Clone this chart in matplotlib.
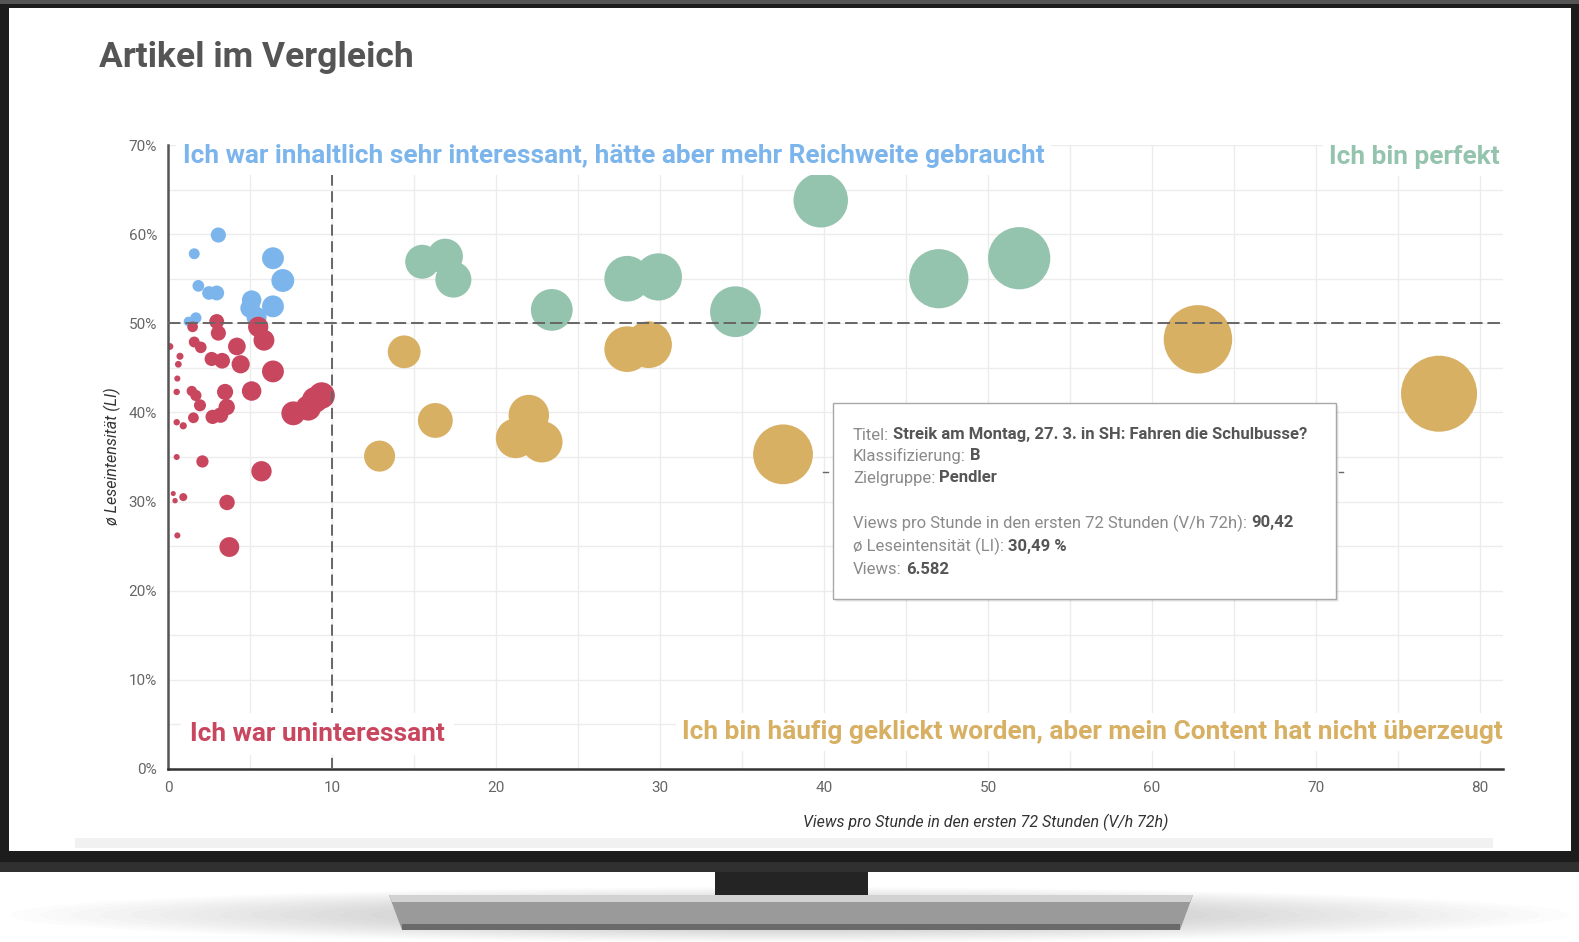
import numpy as np
import matplotlib
matplotlib.use("Agg")
import matplotlib.pyplot as plt
from matplotlib.patches import Rectangle, Polygon, Ellipse

W, H = 1579, 942

# --- data: views per hour (first 72h), avg reading intensity (%), views ---
blue_x = [3.07, 1.6, 6.4, 7.0, 1.85, 2.5, 2.97, 5.1, 6.4, 5.0, 5.4, 1.7, 1.25]
blue_y = [59.9, 57.8, 57.3, 54.8, 54.2, 53.4, 53.4, 52.6, 51.9, 51.7, 50.7, 50.6, 50.2]
blue_views = [221, 115, 461, 504, 133, 180, 214, 367, 461, 360, 389, 122, 90]

red_x = [2.97, 1.5, 3.07, 5.5, 5.85, 1.6, 2.0, 0.12, 4.2, 0.73, 2.66, 3.3, 4.43, 0.63,
         6.4, 0.57, 0.53, 1.45, 1.7, 3.48, 5.1, 1.95, 3.58, 2.72, 3.2, 1.55, 0.53, 0.93,
         7.64, 8.55, 8.96, 9.37, 0.53, 2.1, 5.7, 0.32, 0.43, 0.93, 3.6, 0.57, 3.74]
red_y = [50.2, 49.6, 48.9, 49.6, 48.1, 47.9, 47.3, 47.4, 47.4, 46.3, 46.0, 45.8, 45.4, 45.4,
         44.6, 43.8, 42.3, 42.4, 41.9, 42.3, 42.4, 40.8, 40.6, 39.5, 39.7, 39.4, 38.9, 38.5,
         39.9, 40.5, 41.4, 41.9, 35.0, 34.5, 33.4, 30.9, 30.1, 30.5, 29.9, 26.2, 24.9]
red_views = [214, 110, 221, 396, 421, 115, 130, 45, 302, 48, 192, 238, 319, 44,
             461, 36, 40, 104, 122, 251, 367, 140, 258, 196, 230, 112, 40, 50,
             550, 616, 645, 675, 35, 145, 400, 25, 28, 62, 230, 36, 380]

green_x = [15.5, 16.9, 17.4, 23.4, 28.0, 29.9, 34.6, 39.8, 47.0, 51.9]
green_y = [56.9, 57.5, 54.9, 51.5, 55.0, 55.2, 51.3, 63.8, 55.0, 57.3]
green_views = [1117, 1217, 1252, 1685, 2016, 2153, 2491, 2866, 3384, 3737]

orange_x = [14.4, 16.3, 12.9, 21.2, 22.0, 22.8, 28.0, 29.3, 37.5, 62.8, 77.5]
orange_y = [46.8, 39.1, 35.1, 37.1, 39.7, 36.7, 47.1, 47.6, 35.3, 48.2, 42.1]
orange_views = [1037, 1174, 929, 1526, 1584, 1642, 2016, 2110, 3450, 4522, 5580]

BLUE, RED, GREEN, ORANGE = "#7cb5ec", "#c9465f", "#95c4ae", "#d8b064"
FONT = "Roboto"
plt.rcParams["lines.scale_dashes"] = False

fig = plt.figure(figsize=(W / 100, H / 100), dpi=100)
fig.patch.set_facecolor("white")

# --- tv frame, drawn in pixel coords ---
bg = fig.add_axes([0, 0, 1, 1], zorder=0)
bg.set_xlim(0, W)
bg.set_ylim(H, 0)
bg.axis("off")
for i in range(14):
    bg.add_patch(Ellipse((790, 915), 1560 - i * 60, 56 - i * 2, color="black", alpha=0.012, lw=0))
bg.add_patch(Rectangle((0, 0), W, 872, color="#1c1c1c", lw=0))
bg.add_patch(Rectangle((0, 0), W, 4, color="#555555", lw=0))
bg.add_patch(Rectangle((0, 862), W, 10, color="#303030", lw=0))
bg.add_patch(Rectangle((9, 8), 1562, 843, color="white", lw=0))
bg.add_patch(Rectangle((715, 872), 153, 26, color="#242424", lw=0))
bg.add_patch(Polygon([(389, 895), (1193, 895), (1180, 930), (402, 930)], color="#9a9a9a", lw=0))
bg.add_patch(Polygon([(389, 895), (1193, 895), (1190, 902), (392, 902)], color="#d2d2d2", lw=0))
bg.add_patch(Rectangle((402, 924), 778, 6, color="#6a6a6a", lw=0))
bg.add_patch(Rectangle((75, 838), 1418, 10, color="#f1f1f1", lw=0))

# --- chart ---
ax = fig.add_axes([168 / W, 1 - 769 / H, (1503 - 168) / W, (769 - 145) / H], zorder=1)
ax.set_facecolor("none")
S = 0.537  # marker area (pt^2) per view
ax.scatter(blue_x, blue_y, s=np.array(blue_views) * S, color=BLUE, lw=0, zorder=2)
ax.scatter(red_x, red_y, s=np.array(red_views) * S, color=RED, lw=0, zorder=2)
ax.scatter(green_x, green_y, s=np.array(green_views) * S, color=GREEN, lw=0, zorder=2)
ax.scatter(orange_x, orange_y, s=np.array(orange_views) * S, color=ORANGE, lw=0, zorder=2)

ax.axhline(50, color="#666666", lw=1.4, dashes=(9, 3.5), zorder=3)
ax.axvline(10, color="#666666", lw=1.4, dashes=(8, 4), zorder=3)

ax.set_xlim(0, 81.4)
ax.set_ylim(0, 70)
ax.set_xticks(range(0, 81, 10))
ax.set_xticks(np.arange(5, 81, 10), minor=True)
ax.set_yticks(range(0, 71, 10))
ax.set_yticks(np.arange(5, 70, 10), minor=True)
ax.set_yticklabels([f"{v}%" for v in range(0, 71, 10)])
ax.grid(True, which="both", color="#ececec", lw=1, zorder=0)
ax.set_axisbelow(True)
ax.tick_params(which="both", length=0)
ax.tick_params(axis="y", pad=8, labelsize=11, labelcolor="#666666")
ax.tick_params(axis="x", pad=9, labelsize=11, labelcolor="#666666")
for lab in ax.get_xticklabels() + ax.get_yticklabels():
    lab.set_fontfamily(FONT)
for sp in ("top", "right"):
    ax.spines[sp].set_visible(False)
ax.spines["left"].set_color("#555555")
ax.spines["left"].set_linewidth(1.8)
ax.spines["bottom"].set_color("#333333")
ax.spines["bottom"].set_linewidth(1.8)

# --- overlay texts in pixel coords ---
ov = fig.add_axes([0, 0, 1, 1], zorder=5)
ov.set_xlim(0, W)
ov.set_ylim(H, 0)
ov.axis("off")
ov.patch.set_visible(False)

ov.text(99, 57, "Artikel im Vergleich", family=FONT, weight="bold", fontsize=25.5,
        color="#555555", ha="left", va="center")
ov.text(112, 456, "ø Leseintensität (LI)", family=FONT, style="italic", fontsize=11.5,
        color="#333333", rotation=90, ha="center", va="center")
ov.text(986, 822, "Views pro Stunde in den ersten 72 Stunden (V/h 72h)", family=FONT,
        style="italic", fontsize=11.5, color="#333333", ha="center", va="center")

QS = 18.9
box = dict(boxstyle="square,pad=0.25", fc="white", ec="none")
ov.text(183, 156, "Ich war inhaltlich sehr interessant, hätte aber mehr Reichweite gebraucht",
        family=FONT, weight="bold", fontsize=QS, color=BLUE, ha="left", va="center", bbox=box)
ov.text(1500, 157, "Ich bin perfekt", family=FONT, weight="bold", fontsize=QS,
        color=GREEN, ha="right", va="center", bbox=box)
ov.text(190, 734, "Ich war uninteressant", family=FONT, weight="bold", fontsize=QS,
        color=RED, ha="left", va="center", bbox=dict(boxstyle="square,pad=0.35", fc="white", ec="none"))
ov.text(1503, 732, "Ich bin häufig geklickt worden, aber mein Content hat nicht überzeugt",
        family=FONT, weight="bold", fontsize=QS, color=ORANGE, ha="right", va="center",
        bbox=box)

# --- tooltip ---
for i in range(1, 4):
    ov.add_patch(Rectangle((833 + i, 403 + i), 503, 196, color="black", alpha=0.05, lw=0))
ov.add_patch(Rectangle((833, 403), 503, 196, fc="white", ec="#a8a8a8", lw=1))
ov.plot([823, 828], [472, 472], color="#666666", lw=1)
ov.plot([1339, 1343], [472, 472], color="#666666", lw=1)

tip_lines = [
    (435, "Titel:", "Streik am Montag, 27. 3. in SH: Fahren die Schulbusse?"),
    (456, "Klassifizierung:", "B"),
    (478, "Zielgruppe:", "Pendler"),
    (523, "Views pro Stunde in den ersten 72 Stunden (V/h 72h):", "90,42"),
    (546, "ø Leseintensität (LI):", "30,49 %"),
    (569, "Views:", "6.582"),
]
renderer = fig.canvas.get_renderer()
for y, lab, val in tip_lines:
    t = ov.text(853, y, lab, family=FONT, fontsize=12, color="#8a8a8a", ha="left", va="center")
    w = t.get_window_extent(renderer).width
    ov.text(853 + w + 4, y, val, family=FONT, weight="bold", fontsize=12, color="#555555",
            ha="left", va="center")

fig.savefig("out.png", dpi=100)
